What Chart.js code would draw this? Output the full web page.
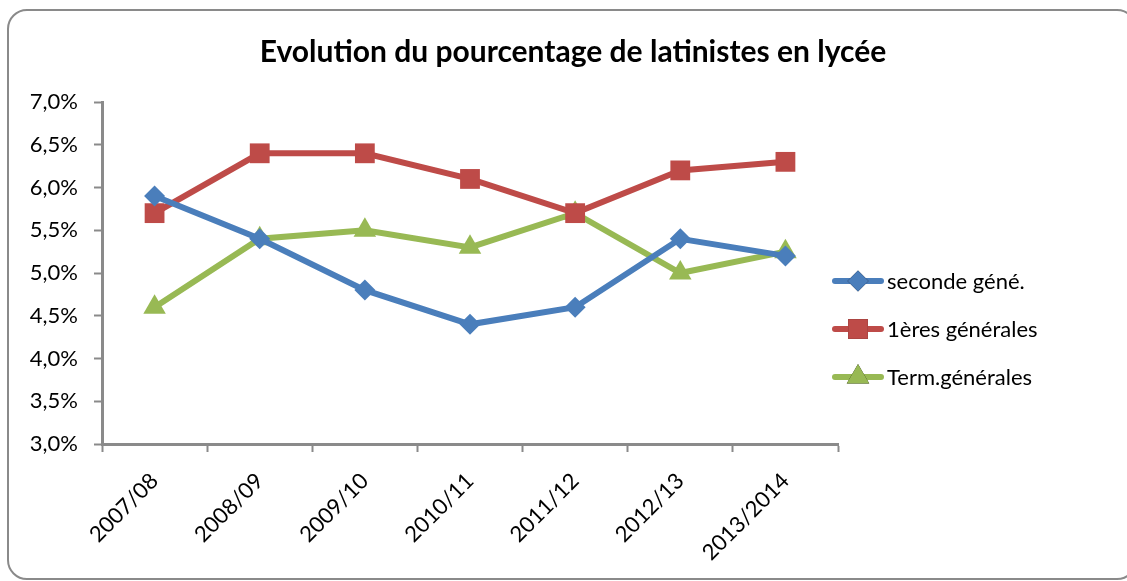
<!DOCTYPE html>
<html>
<head>
<meta charset="utf-8">
<script src="https://cdn.jsdelivr.net/npm/chart.js@4.4.1/dist/chart.umd.min.js"></script>
<style>
  html, body { margin: 0; padding: 0; background: #fff; overflow: hidden; }
  #frame {
    position: absolute; left: 0; top: 0; width: 1127px; height: 581px;
  }
  #box {
    position: absolute; left: 7px; top: 9px; width: 1130px; height: 571px;
    border: 2px solid #8a8a8a; border-radius: 20px; box-sizing: border-box;
  }
  canvas { position: absolute; left: 0; top: 0; }
</style>
</head>
<body>
<div id="frame">
  <div id="box"></div>
  <canvas id="chart" width="1127" height="581"></canvas>
</div>
<script>
// data
var years = ["2007/08", "2008/09", "2009/10", "2010/11", "2011/12", "2012/13", "2013/2014"];
var seconde = [5.9, 5.4, 4.8, 4.4, 4.6, 5.4, 5.2];
var premieres = [5.7, 6.4, 6.4, 6.1, 5.7, 6.2, 6.3];
var terminales = [4.6, 5.4, 5.5, 5.3, 5.7, 5.0, 5.25];

var seriesNames = ["seconde géné.", "1ères générales", "Term.générales"];
var seriesColors = ["#4a7ebb", "#be4b48", "#98b954"];
var chartTitle = "Evolution du pourcentage de latinistes en lycée";

var font = "Lato, 'Noto Sans', sans-serif";

// title over the whole frame + legend on the right (line + marker)
var sideLegend = {
  id: 'sideLegend',
  afterDraw: function (chart) {
    var ctx = chart.ctx;
    ctx.save();
    ctx.fillStyle = '#000';
    ctx.font = 'bold 30px ' + font;
    ctx.textAlign = 'center';
    ctx.textBaseline = 'middle';
    ctx.fillText(chartTitle, 573, 52);
    ctx.restore();

    chart.data.datasets.forEach(function (ds, i) {
      var y = 281 + i * 48;
      ctx.save();
      ctx.strokeStyle = ds.borderColor;
      ctx.lineWidth = ds.borderWidth;
      ctx.lineCap = 'round';
      ctx.beginPath();
      ctx.moveTo(835, y);
      ctx.lineTo(881, y);
      ctx.stroke();
      Chart.helpers.drawPoint(ctx, {
        pointStyle: ds.pointStyle,
        radius: ds.pointRadius,
        borderWidth: 0
      }, 858, y);
      ctx.fillStyle = ds.backgroundColor;
      ctx.fill();
      ctx.fillStyle = '#000';
      ctx.font = '22px ' + font;
      ctx.textBaseline = 'middle';
      ctx.fillText(ds.label, 887, y + 1);
      ctx.restore();
    });
  }
};

function makeSet(i, values, style, radius) {
  return {
    label: seriesNames[i],
    data: values,
    borderColor: seriesColors[i],
    backgroundColor: seriesColors[i],
    pointBackgroundColor: seriesColors[i],
    pointBorderWidth: 0,
    borderWidth: 6,
    pointStyle: style,
    pointRadius: radius,
    pointHoverRadius: radius,
    tension: 0
  };
}

new Chart(document.getElementById('chart'), {
  type: 'line',
  data: {
    labels: years,
    datasets: [
      makeSet(0, seconde, 'rectRot', 10.5),
      makeSet(1, premieres, 'rect', 14),
      makeSet(2, terminales, 'triangle', 13)
    ]
  },
  plugins: [sideLegend],
  options: {
    responsive: false,
    animation: false,
    layout: {
      padding: { left: 0, right: 289, top: 102, bottom: 0 }
    },
    plugins: {
      legend: { display: false },
      tooltip: { enabled: false },
      title: { display: false }
    },
    scales: {
      x: {
        offset: true,
        grid: {
          offset: true,
          drawOnChartArea: false,
          drawTicks: true,
          tickLength: 8,
          tickColor: '#8a8a8a',
          tickWidth: 2
        },
        border: { color: '#8a8a8a', width: 3 },
        ticks: {
          color: '#000',
          font: { family: font, size: 22 },
          minRotation: 45,
          maxRotation: 45,
          padding: 16
        },
        afterFit: function (s) { s.height = 137; }
      },
      y: {
        min: 3,
        max: 7,
        grid: {
          drawOnChartArea: false,
          drawTicks: true,
          tickLength: 8,
          tickColor: '#8a8a8a',
          tickWidth: 2
        },
        border: { color: '#8a8a8a', width: 3 },
        ticks: {
          stepSize: 0.5,
          color: '#000',
          font: { family: font, size: 22 },
          padding: 16,
          callback: function (v) { return v.toFixed(1).replace('.', ',') + '%'; }
        },
        afterFit: function (s) { s.width = 102; }
      }
    }
  }
});
</script>
</body>
</html>
